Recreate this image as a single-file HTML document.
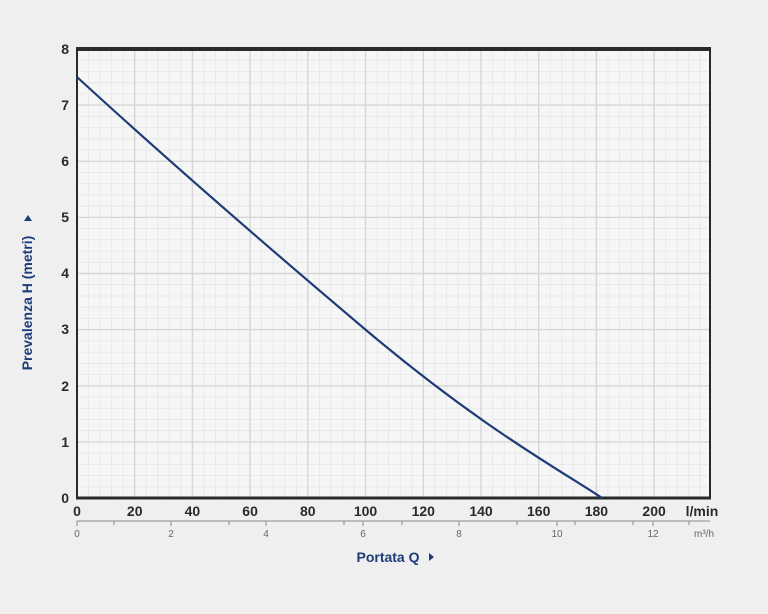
<!DOCTYPE html>
<html><head><meta charset="utf-8"><style>
html,body{margin:0;padding:0;background:#efefef;}
svg{display:block;font-family:"Liberation Sans",sans-serif;}
</style></head><body>
<svg width="768" height="614" viewBox="0 0 768 614">
<rect width="768" height="614" fill="#efefef"/>
<rect x="77" y="49" width="633" height="449" fill="#f6f6f6"/>
<g stroke="#e6e6e6" stroke-width="0.8">
<path d="M88.5 49V498M100 49V498M111.6 49V498M123.2 49V498M146.2 49V498M157.8 49V498M169.3 49V498M180.8 49V498M203.9 49V498M215.5 49V498M227 49V498M238.6 49V498M261.6 49V498M273.2 49V498M284.7 49V498M296.3 49V498M319.4 49V498M330.9 49V498M342.5 49V498M354 49V498M377.1 49V498M388.6 49V498M400.2 49V498M411.7 49V498M434.8 49V498M446.4 49V498M457.9 49V498M469.4 49V498M492.5 49V498M504.1 49V498M515.6 49V498M527.2 49V498M550.2 49V498M561.8 49V498M573.3 49V498M584.9 49V498M608 49V498M619.5 49V498M631.1 49V498M642.6 49V498M665.7 49V498M677.2 49V498M688.8 49V498M700.3 49V498"/>
<path d="M77 60.2H710M77 71.4H710M77 82.7H710M77 93.9H710M77 116.3H710M77 127.6H710M77 138.8H710M77 150H710M77 172.5H710M77 183.7H710M77 194.9H710M77 206.2H710M77 228.6H710M77 239.8H710M77 251.1H710M77 262.3H710M77 284.7H710M77 296H710M77 307.2H710M77 318.4H710M77 340.9H710M77 352.1H710M77 363.3H710M77 374.6H710M77 397H710M77 408.2H710M77 419.5H710M77 430.7H710M77 453.1H710M77 464.4H710M77 475.6H710M77 486.8H710"/>
</g>
<g stroke="#d6d6d6" stroke-width="1.4">
<path d="M134.7 49V498M192.4 49V498M250.1 49V498M307.8 49V498M365.5 49V498M423.3 49V498M481 49V498M538.7 49V498M596.4 49V498M654.1 49V498"/>
<path d="M77 105.1H710M77 161.3H710M77 217.4H710M77 273.5H710M77 329.6H710M77 385.8H710M77 441.9H710"/>
</g>
<rect x="77" y="49" width="633" height="449" fill="none" stroke="#2a2a2a" stroke-width="2"/>
<line x1="76" y1="49" x2="711" y2="49" stroke="#2a2a2a" stroke-width="4"/>
<line x1="76" y1="498" x2="711" y2="498" stroke="#2a2a2a" stroke-width="3"/>
<path fill="none" stroke="#1d3c78" stroke-width="2.2" d="M77,77 C150,144 250,232 365.5,329.6 S560,470 602,498"/>
<g font-size="14" font-weight="bold" fill="#2a2a2a" text-anchor="end">
<text x="69" y="54">8</text><text x="69" y="110">7</text><text x="69" y="166">6</text><text x="69" y="222">5</text><text x="69" y="278">4</text><text x="69" y="334">3</text><text x="69" y="391">2</text><text x="69" y="447">1</text><text x="69" y="503">0</text>
</g>
<g font-size="14" font-weight="bold" fill="#2a2a2a" text-anchor="middle">
<text x="77" y="516">0</text><text x="134.7" y="516">20</text><text x="192.4" y="516">40</text><text x="250.1" y="516">60</text><text x="307.8" y="516">80</text><text x="365.5" y="516">100</text><text x="423.3" y="516">120</text><text x="481" y="516">140</text><text x="538.7" y="516">160</text><text x="596.4" y="516">180</text><text x="654.1" y="516">200</text>
<text x="702" y="516">l/min</text>
</g>
<line x1="77" y1="521" x2="710" y2="521" stroke="#8a8a8a" stroke-width="1"/>
<g stroke="#8a8a8a" stroke-width="1">
<path d="M77 521v5M114 521v4M171 521v5M229 521v4M266 521v5M344 521v4M363 521v5M402 521v4M459 521v5M517 521v4M557 521v5M575 521v4M633 521v4M653 521v5M689 521v4"/>
</g>
<g font-size="10" fill="#666" text-anchor="middle">
<text x="77" y="537">0</text><text x="171" y="537">2</text><text x="266" y="537">4</text><text x="363" y="537">6</text><text x="459" y="537">8</text><text x="557" y="537">10</text><text x="653" y="537">12</text><text x="704" y="537">m³/h</text>
</g>
<text x="388" y="562" font-size="14" font-weight="bold" fill="#1d3c78" text-anchor="middle">Portata Q</text>
<path d="M429 553l5 4-5 4z" fill="#1d3c78"/>
<text transform="translate(32,303) rotate(-90)" font-size="14" font-weight="bold" fill="#1d3c78" text-anchor="middle">Prevalenza H (metri)</text>
<path d="M28 215l4 6h-8z" fill="#1d3c78"/>
</svg>
</body></html>
